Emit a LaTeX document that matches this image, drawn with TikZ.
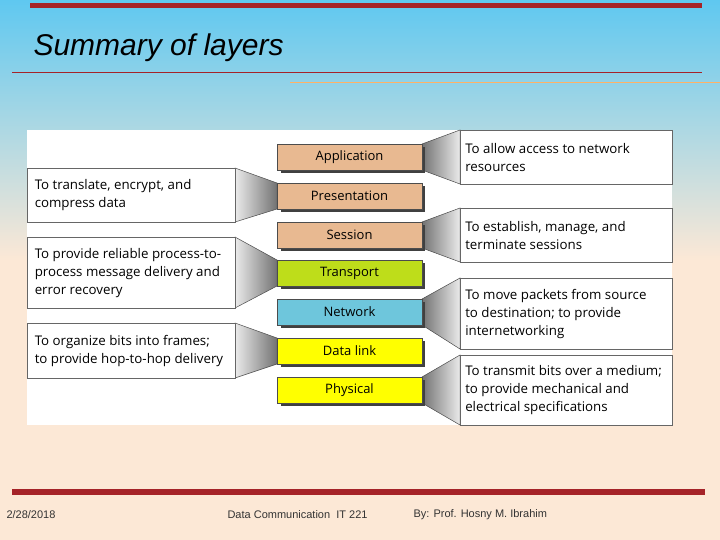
\documentclass[tikz,border=0pt]{standalone}
\usepackage{fontspec}
\setmainfont{Liberation Sans}
\newfontfamily\bodyf{Open Sans}
\definecolor{sky}{RGB}{95,200,240}
\definecolor{peach}{RGB}{252,232,214}
\definecolor{darkred}{RGB}{165,35,40}
\definecolor{tan}{RGB}{232,185,145}
\definecolor{lime}{RGB}{190,221,26}
\definecolor{lblue}{RGB}{110,198,220}
\definecolor{yel}{RGB}{255,255,0}
\begin{document}
\begin{tikzpicture}[x=1pt,y=-1pt,
  layer/.style={draw=black!70,line width=0.6pt,minimum width=145pt,minimum height=26pt,inner sep=0pt,font=\bodyf\fontsize{13}{15}\selectfont},
  desc/.style={draw=black!60,line width=0.5pt,fill=white,align=left,anchor=north west,inner sep=0pt,font=\bodyf\fontsize{13.3}{18}\selectfont},
  foot/.style={font=\fontsize{11}{13}\selectfont,text=black!80,anchor=west}]
\useasboundingbox (0,0) rectangle (720,540);
\fill[top color=sky, bottom color=peach] (0,0) rectangle (720,260);
\fill[peach] (0,260) rectangle (720,540);
\fill[darkred] (30,3) rectangle (702,8);
\node[anchor=west,font=\itshape\fontsize{30}{34}\selectfont] (title) at (30,48) {Summary of layers};
\draw[darkred,line width=0.8pt] (12,72) -- (702,72);
\draw[orange!60,line width=0.5pt] (290,82) -- (720,82);
\fill[white] (27,130) rectangle (672,425);
% funnels
\tikzset{funR/.style={left color=black!55,right color=black!8,draw=black!70,line width=0.5pt},
         funL/.style={right color=black!55,left color=black!8,draw=black!70,line width=0.5pt}}
\path[funR] (422,144) -- (460,130) -- (460,184) -- (422,170) -- cycle;
\path[funR] (422,222) -- (460,208) -- (460,262) -- (422,248) -- cycle;
\path[funR] (422,299) -- (460,278) -- (460,349) -- (422,325) -- cycle;
\path[funR] (422,377) -- (460,355) -- (460,425) -- (422,403) -- cycle;
\path[funL] (277,183) -- (235,168) -- (235,222) -- (277,209) -- cycle;
\path[funL] (277,260) -- (235,237) -- (235,308) -- (277,286) -- cycle;
\path[funL] (277,338) -- (235,323) -- (235,378) -- (277,364) -- cycle;
% layers
\foreach \n/\t/\y/\c in {app/Application/157/tan,
  pre/Presentation/196/tan,
  ses/Session/235/tan,
  tra/Transport/273/lime,
  net/Network/312/lblue,
  dat/Data link/351/yel,
  phy/Physical/390/yel}{
  \fill[black!75] (280.5,\y-10) rectangle (425,\y+16);
  \node[layer,fill=\c] (\n) at (349.5,\y) {\t};
}
% descriptions
\node[desc,minimum width=212pt,minimum height=54pt] (r1) at (460,130) {\hspace*{4pt}\raisebox{-6pt}{\parbox[t]{206pt}{To allow access to network\\resources}}};
\node[desc,minimum width=212pt,minimum height=54pt] (r2) at (460,208) {\hspace*{4pt}\raisebox{-6pt}{\parbox[t]{206pt}{To establish, manage, and\\terminate sessions}}};
\node[desc,minimum width=212pt,minimum height=71pt] (r3) at (460,278) {\hspace*{4pt}\raisebox{-6pt}{\parbox[t]{206pt}{To move packets from source\\to destination; to provide\\internetworking}}};
\node[desc,minimum width=212pt,minimum height=70pt] (r4) at (460,355) {\hspace*{4pt}\raisebox{-6pt}{\parbox[t]{206pt}{To transmit bits over a medium;\\to provide mechanical and\\electrical specifications}}};
\node[desc,minimum width=208pt,minimum height=54pt] (l1) at (27,168) {\hspace*{7pt}\raisebox{-6pt}{\parbox[t]{200pt}{To translate, encrypt, and\\compress data}}};
\node[desc,minimum width=208pt,minimum height=71pt] (l2) at (27,237) {\hspace*{7pt}\raisebox{-6pt}{\parbox[t]{200pt}{To provide reliable process-to-\\process message delivery and\\error recovery}}};
\node[desc,minimum width=208pt,minimum height=55pt] (l3) at (27,323) {\hspace*{7pt}\raisebox{-6pt}{\parbox[t]{200pt}{To organize bits into frames;\\to provide hop-to-hop delivery}}};
% footer
\fill[darkred] (12,489) rectangle (705,495);
\node[foot] (f1) at (3,515) {2/28/2018};
\node[foot] (f2) at (224,515) {Data Communication\ \ IT 221};
\node[foot] (f3) at (410,515) {By: Prof. Hosny M. Ibrahim};
\end{tikzpicture}
\end{document}
